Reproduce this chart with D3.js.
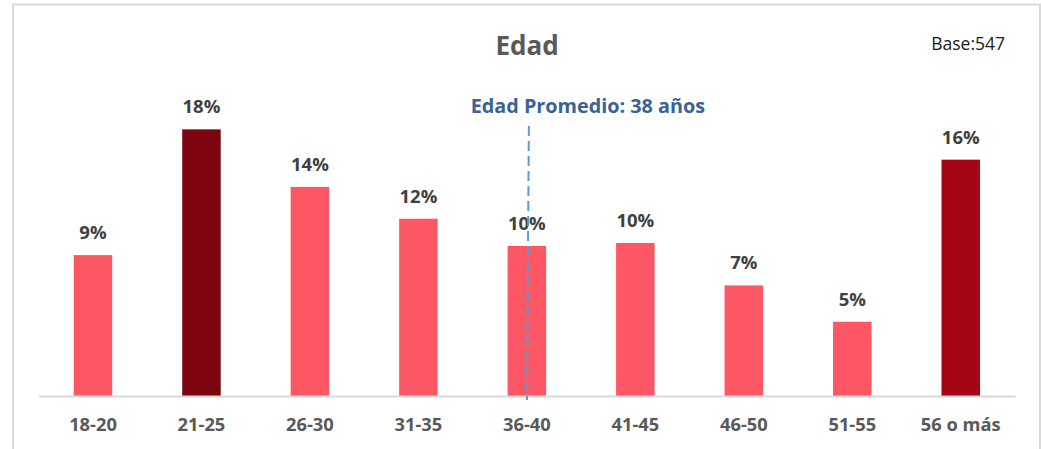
<!DOCTYPE html>
<html>
<head>
<meta charset="utf-8">
<script src="https://cdn.jsdelivr.net/npm/d3@7"></script>
<style>
  html, body { margin: 0; padding: 0; background: #fff; }
  svg { display: block; }
</style>
</head>
<body>
<div id="chart"></div>
<script>
// Edad — distribución por tramo de edad
const categories = ['18-20', '21-25', '26-30', '31-35', '36-40', '41-45', '46-50', '51-55', '56 o más'];
const values = [9.3, 17.6, 13.8, 11.7, 9.9, 10.1, 7.3, 4.9, 15.6];
const barColors = ['#fd5664', '#7d0510', '#fd5664', '#fd5664', '#fd5664', '#fd5664', '#fd5664', '#fd5664', '#a50614'];
const averageBand = '36-40';
const titleText = 'Edad';
const baseText = 'Base:547';
const averageText = 'Edad Promedio: 38 años';

const W = 1041, H = 449;
const margin = { top: 0, right: 26, bottom: 53, left: 38.75 };
const font = '"Open Sans", "Noto Sans", sans-serif';

const svg = d3.select('#chart').append('svg')
  .attr('width', W).attr('height', H);

// outer frame
svg.append('path')
  .attr('d', `M13,${H + 2} V4.5 H1040 V${H + 2}`)
  .attr('fill', 'none')
  .attr('stroke', '#d9d9d9')
  .attr('stroke-width', 2);

const x = d3.scaleBand()
  .domain(categories)
  .range([margin.left, W - margin.right])
  .paddingInner(0.645)
  .paddingOuter(0.3225);

const y = d3.scaleLinear()
  .domain([0, 20])
  .range([H - margin.bottom, H - margin.bottom - 20 * 15.15]);

const baseY = y(0);

// bars
svg.selectAll('.bar')
  .data(values)
  .join('rect')
  .attr('class', 'bar')
  .attr('x', (d, i) => x(categories[i]))
  .attr('width', x.bandwidth())
  .attr('y', d => y(d))
  .attr('height', d => baseY - y(d))
  .attr('fill', (d, i) => barColors[i]);

// axis line + labels
const axis = svg.append('g')
  .attr('transform', `translate(0,${baseY})`)
  .call(d3.axisBottom(x).tickSize(0).tickPadding(0));
axis.select('.domain').attr('stroke', '#d9d9d9').attr('stroke-width', 2);
axis.selectAll('text')
  .attr('dy', 0)
  .attr('y', 35)
  .attr('fill', '#595959')
  .attr('font-family', font)
  .attr('font-weight', 700)
  .attr('font-size', 18.3);

// data labels
svg.selectAll('.lbl')
  .data(values)
  .join('text')
  .attr('class', 'lbl')
  .attr('x', (d, i) => x(categories[i]) + x.bandwidth() / 2)
  .attr('y', d => y(d) - 16)
  .attr('text-anchor', 'middle')
  .attr('fill', '#404040')
  .attr('font-family', font)
  .attr('font-weight', 700)
  .attr('font-size', 18.5)
  .text(d => Math.round(d) + '%');

// average line
const ax = x(averageBand) + x.bandwidth() / 2 + 1;
svg.append('line')
  .attr('x1', ax + 1).attr('x2', ax - 1)
  .attr('y1', 126).attr('y2', baseY + 4)
  .attr('stroke', '#5b9bd5')
  .attr('stroke-width', 2)
  .attr('stroke-dasharray', '10,5');

svg.append('text')
  .attr('x', ax + 60)
  .attr('y', 113)
  .attr('text-anchor', 'middle')
  .attr('fill', '#3a6295')
  .attr('font-family', font)
  .attr('font-weight', 700)
  .attr('font-size', 19.8)
  .text(averageText);

// title
svg.append('text')
  .attr('x', 527)
  .attr('y', 55)
  .attr('text-anchor', 'middle')
  .attr('fill', '#595959')
  .attr('font-family', font)
  .attr('font-weight', 700)
  .attr('font-size', 26)
  .text(titleText);

svg.append('text')
  .attr('x', 1005)
  .attr('y', 50)
  .attr('text-anchor', 'end')
  .attr('fill', '#1a1a1a')
  .attr('font-family', font)
  .attr('font-size', 17.5)
  .text(baseText);
</script>
</body>
</html>
